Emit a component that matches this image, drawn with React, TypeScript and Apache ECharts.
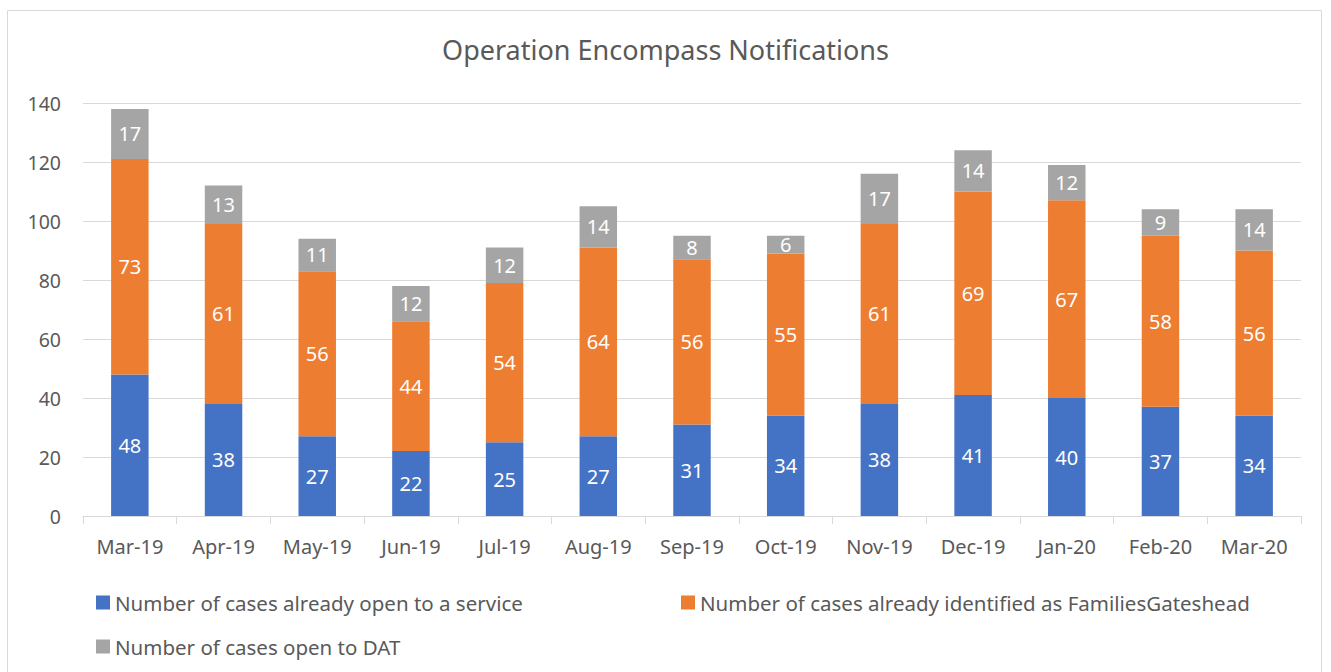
import React, { useEffect, useRef } from "react";
import * as echarts from "echarts";

const categories = ["Mar-19", "Apr-19", "May-19", "Jun-19", "Jul-19", "Aug-19", "Sep-19", "Oct-19", "Nov-19", "Dec-19", "Jan-20", "Feb-20", "Mar-20"];
const openService = [48, 38, 27, 22, 25, 27, 31, 34, 38, 41, 40, 37, 34];
const familiesGateshead = [73, 61, 56, 44, 54, 64, 56, 55, 61, 69, 67, 58, 56];
const openDAT = [17, 13, 11, 12, 12, 14, 8, 6, 17, 14, 12, 9, 14];
const yTicks = { min: 0, max: 140, interval: 20 };

const names = [
  "Number of cases already open to a service",
  "Number of cases already identified as FamiliesGateshead",
  "Number of cases open to DAT",
];
const colors = ["#4472C4", "#ED7D31", "#A5A5A5"];
const FONT = "'Noto Sans', sans-serif";
const TXT = "#595959";

export default function App() {
  const ref = useRef<HTMLDivElement>(null);
  useEffect(() => {
    if (!ref.current) return;
    const chart = echarts.init(ref.current, undefined, { renderer: "svg" });
    const mk = (i: number, data: number[]) => ({
      name: names[i],
      type: "bar",
      stack: "total",
      data,
      barWidth: "40%",
      itemStyle: { color: colors[i] },
      label: { show: true, position: "inside", color: "#fff", fontSize: 20, fontFamily: FONT },
    });
    const legendBase = {
      orient: "horizontal",
      itemWidth: 14,
      itemHeight: 14,
      itemGap: 6,
      icon: "rect",
      textStyle: { color: TXT, fontSize: 20.5, fontFamily: FONT },
    };
    chart.setOption({
      animation: false,
      title: {
        text: "Operation Encompass Notifications",
        left: "center",
        top: 31,
        textStyle: { color: TXT, fontSize: 27, fontWeight: "normal", fontFamily: FONT },
      },
      graphic: [
        {
          type: "rect",
          shape: { x: 7.5, y: 10.5, width: 1314, height: 700 },
          style: { fill: "none", stroke: "#d9d9d9", lineWidth: 1 },
          silent: true,
        },
      ],
      legend: [
        { ...legendBase, data: [names[0]], left: 91, top: 587 },
        { ...legendBase, data: [names[1]], left: 676, top: 587 },
        { ...legendBase, data: [names[2]], left: 91, top: 631 },
      ],
      grid: { left: 83, right: 30, top: 103, bottom: 156 },
      xAxis: {
        type: "category",
        data: categories,
        axisLine: { lineStyle: { color: "#d9d9d9" } },
        axisTick: { show: true, length: 8, lineStyle: { color: "#d9d9d9" } },
        axisLabel: { color: TXT, fontSize: 20, fontFamily: FONT, margin: 20 },
      },
      yAxis: {
        type: "value",
        min: yTicks.min,
        max: yTicks.max,
        interval: yTicks.interval,
        axisLine: { show: false },
        axisTick: { show: false },
        splitLine: { lineStyle: { color: "#d9d9d9" } },
        axisLabel: { color: TXT, fontSize: 19.5, fontFamily: FONT, margin: 22 },
      },
      series: [mk(0, openService), mk(1, familiesGateshead), mk(2, openDAT)],
    });
    return () => chart.dispose();
  }, []);
  return (
    <div
      ref={ref}
      style={{ position: "fixed", left: 0, top: 0, width: 1331, height: 672, background: "#fff" }}
    />
  );
}
